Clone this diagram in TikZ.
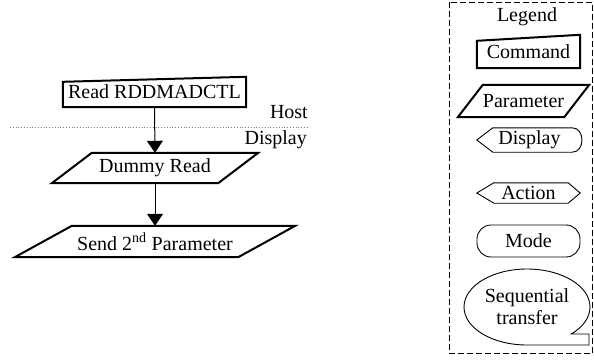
\documentclass[tikz,border=0pt]{standalone}
\usepackage{fontspec}
\setmainfont{Liberation Serif}
\usetikzlibrary{arrows.meta,calc}
\begin{document}
\begin{tikzpicture}[x=1pt,y=-1pt,
  lbl/.style={inner sep=0pt, font=\fontsize{20}{22}\selectfont},
  shapebox/.style={lbl, minimum width=#1},
  heavy/.style={line width=2pt, line join=miter},
  light/.style={line width=0.9pt},
  flow/.style={line width=1pt, -{Triangle[width=16pt,length=12pt]}}]
\useasboundingbox (0,0) rectangle (594,360);

% ---------- main flow ----------
\node[shapebox=183pt, minimum height=30pt] (read) at (154.5,92) {Read RDDMADCTL};
\draw[heavy] ($(read.north west)+(0,5)$) -- (read.north east) -- (read.south east) -- (read.south west) -- cycle;

\node[lbl, anchor=east] (host) at (308,112) {Host};
\node[lbl, anchor=east] (disp) at (307,140) {Display};
\draw[dotted, gray, line width=0.8pt] (10,127) -- (308,127);

\node[shapebox=206pt, minimum height=30pt] (dummy) at (155,168) {Dummy Read};
\draw[heavy] ($(dummy.north west)+(40,0)$) -- (dummy.north east) -- ($(dummy.south east)-(40,0)$) -- (dummy.south west) -- cycle;

\node[shapebox=280pt, minimum height=31pt] (send) at (155,241.5) {Send 2\textsuperscript{nd} Parameter};
\draw[heavy] ($(send.north west)+(57,0)$) -- (send.north east) -- ($(send.south east)-(57,0)$) -- (send.south west) -- cycle;

\draw[flow] (read.south) -- (dummy.north);
\draw[flow] (dummy.south) -- (send.north);

% ---------- legend ----------
\draw[line width=0.8pt, dash pattern=on 6pt off 3pt] (449,2) rectangle (592.5,353);
\node[lbl] (legend) at (527,17) {Legend};

\node[shapebox=103pt, minimum height=33pt] (cmd) at (528.5,51.5) {Command};
\draw[heavy] ($(cmd.north west)+(0,6)$) -- (cmd.north east) -- (cmd.south east) -- (cmd.south west) -- cycle;

\node[shapebox=131pt, minimum height=32pt] (par) at (523.5,101) {Parameter};
\draw[heavy] ($(par.north west)+(25,0)$) -- (par.north east) -- ($(par.south east)-(25,0)$) -- (par.south west) -- cycle;

\node[shapebox=105pt, minimum height=24pt] (dsp) at (529.5,140) {Display};
\draw[light] (dsp.west) -- ($(dsp.north west)+(16,0)$) -- ($(dsp.north east)-(10,0)$)
  .. controls ($(dsp.north east)+(3,0)$) and ($(dsp.south east)+(3,0)$) .. ($(dsp.south east)-(10,0)$)
  -- ($(dsp.south west)+(16,0)$) -- cycle;

\node[shapebox=103pt, minimum height=20pt] (act) at (528.5,193) {Action};
\draw[light] (act.west) -- ($(act.north west)+(17,0)$) -- ($(act.north east)-(12,0)$) -- (act.east)
  -- ($(act.south east)-(12,0)$) -- ($(act.south west)+(17,0)$) -- cycle;

\node[shapebox=103pt, minimum height=32pt, draw, light, rounded corners=14pt] (mode) at (528.5,241) {Mode};

\node[lbl, align=center] (seq) at (527,307) {Sequential\\transfer};
\draw[light] ($(seq.center)+(0,38)$) arc[start angle=90, end angle=405.3, x radius=63, y radius=38]
  -- ($(seq.center)+(62,27)$) -- ($(seq.center)+(62,38)$) -- cycle;
\end{tikzpicture}
\end{document}
